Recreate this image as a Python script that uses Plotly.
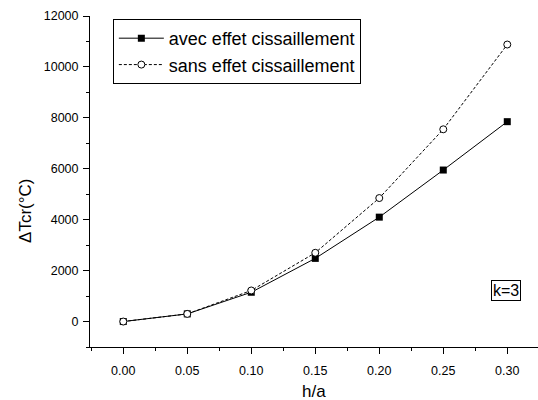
import plotly.graph_objects as go

h_a = [0.00, 0.05, 0.10, 0.15, 0.20, 0.25, 0.30]
avec = [0, 300, 1150, 2480, 4100, 5950, 7850]
sans = [0, 300, 1220, 2700, 4850, 7550, 10880]

FONT = "Liberation Sans, Arial, sans-serif"

fig = go.Figure()
fig.add_trace(go.Scatter(
    x=h_a, y=avec, mode="lines+markers", name="avec effet cissaillement",
    line=dict(color="black", width=1, dash="solid"),
    marker=dict(symbol="square", size=7, color="black"),
))
fig.add_trace(go.Scatter(
    x=h_a, y=sans, mode="lines+markers", name="sans effet cissaillement",
    line=dict(color="black", width=1, dash="3px,2px"),
    marker=dict(symbol="circle", size=7, color="white", line=dict(color="black", width=1)),
))

axis_common = dict(
    showgrid=False, zeroline=False, showline=True, linecolor="black", linewidth=1,
    ticks="outside", ticklen=6, tickwidth=1, tickcolor="black",
    tickfont=dict(family=FONT, size=12.5, color="black"),
)

fig.update_xaxes(
    range=[-0.026, 0.324], tickvals=[0, 0.05, 0.10, 0.15, 0.20, 0.25, 0.30],
    tickformat=".2f", ticklabelstandoff=6,
    minor=dict(dtick=0.025, tick0=-0.025, ticks="outside", ticklen=3, tickcolor="black"),
    **axis_common,
)
fig.update_yaxes(
    range=[-1000, 12000], tickvals=[0, 2000, 4000, 6000, 8000, 10000, 12000],
    tickformat="d", ticklabelstandoff=2,
    minor=dict(dtick=1000, tick0=-1000, ticks="outside", ticklen=3, tickcolor="black"),
    **axis_common,
)

fig.update_layout(
    width=538, height=400,
    margin=dict(l=90, r=0, t=16, b=53),
    plot_bgcolor="white", paper_bgcolor="white",
    font=dict(family=FONT, color="black"),
    legend=dict(
        x=0.051, y=0.991, xanchor="left", yanchor="top",
        bgcolor="white", bordercolor="black", borderwidth=1,
        font=dict(family=FONT, size=18, color="black"),
        itemwidth=45,
    ),
    annotations=[
        dict(text="k=3", x=0.9275, y=0.171, xref="paper", yref="paper",
             xanchor="center", yanchor="middle",
             showarrow=False, font=dict(family=FONT, size=16, color="black"),
             bordercolor="black", borderwidth=1, borderpad=1, bgcolor="white"),
        dict(text="h/a", x=0.5, y=-0.133, xref="paper", yref="paper",
             xanchor="center", yanchor="middle",
             showarrow=False, font=dict(family=FONT, size=17, color="black")),
        dict(text="ΔTcr(°C)", x=-0.143, y=0.411, xref="paper", yref="paper",
             xanchor="center", yanchor="middle", textangle=-90,
             showarrow=False, font=dict(family=FONT, size=17, color="black")),
    ],
)

fig.write_html("out.html")
